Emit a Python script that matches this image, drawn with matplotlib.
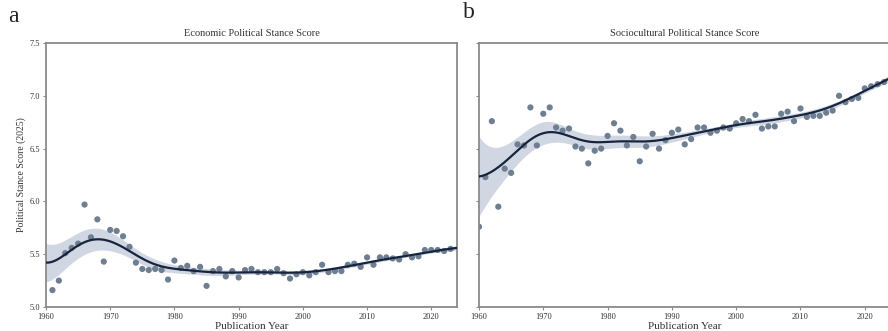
import numpy as np
import matplotlib
matplotlib.use('Agg')
import matplotlib.pyplot as plt

plt.rcParams['font.family'] = ['Liberation Serif', 'DejaVu Serif']

# yearly mean scores
econ_years = np.arange(1961, 2024)
econ_scores = [5.16, 5.25, 5.51, 5.56, 5.60, 5.97, 5.66, 5.83, 5.43, 5.73,
               5.72, 5.67, 5.57, 5.42, 5.36, 5.35, 5.36, 5.35, 5.26, 5.44,
               5.37, 5.39, 5.34, 5.38, 5.20, 5.34, 5.36, 5.29, 5.34, 5.28,
               5.35, 5.36, 5.33, 5.33, 5.33, 5.36, 5.32, 5.27, 5.31, 5.33,
               5.30, 5.33, 5.40, 5.33, 5.34, 5.34, 5.40, 5.41, 5.38, 5.47,
               5.40, 5.47, 5.47, 5.46, 5.45, 5.50, 5.47, 5.48, 5.54, 5.54,
               5.54, 5.53, 5.55]

socio_years = np.arange(1960, 2024)
socio_scores = [5.76, 6.23, 6.76, 5.95, 6.31, 6.27, 6.54, 6.53, 6.89, 6.53,
                6.83, 6.89, 6.70, 6.67, 6.69, 6.52, 6.50, 6.36, 6.48, 6.50,
                6.62, 6.74, 6.67, 6.53, 6.61, 6.38, 6.52, 6.64, 6.50, 6.58,
                6.65, 6.68, 6.54, 6.59, 6.70, 6.70, 6.65, 6.67, 6.70, 6.69,
                6.74, 6.78, 6.76, 6.82, 6.69, 6.71, 6.71, 6.83, 6.85, 6.76,
                6.88, 6.80, 6.81, 6.81, 6.84, 6.86, 7.00, 6.94, 6.97, 6.98,
                7.07, 7.09, 7.11, 7.13]

titles = ['Economic Political Stance Score', 'Sociocultural Political Stance Score']

point_color = '#6f7f92'
line_color = '#16243d'
band_color = '#c5cedb'
spine_color = '#8a8a8a'


def smooth_fit(x, y, grid, bw=3.5):
    # gaussian kernel smoother: local linear, eased toward the local mean
    # in the sparse early years.  band = pointwise 95% from residual spread
    x = np.asarray(x, float)
    y = np.asarray(y, float)
    fit = np.zeros(len(grid))
    se = np.zeros(len(grid))
    for j, x0 in enumerate(grid):
        w = np.exp(-0.5 * ((x - x0) / bw) ** 2)
        X = np.column_stack([np.ones_like(x), x - x0])
        A = X.T @ (w[:, None] * X)
        L = np.linalg.solve(A, (X * w[:, None]).T)[0]
        ll = L @ y
        nw = np.sum(w * y) / np.sum(w)
        a = 1 - np.exp(-(x0 - 1960) / 8.0)
        fit[j] = a * ll + (1 - a) * nw
        beta = np.linalg.solve(A, X.T @ (w * y))
        r = y - X @ beta
        s2 = np.sum(w * r ** 2) / np.sum(w)
        se[j] = np.sqrt(s2 * np.sum(L ** 2))
    return fit, 1.96 * se


fig = plt.figure(figsize=(8.88, 3.31), dpi=100)
ax_a = fig.add_axes([0.0518, 0.0725, 0.4628, 0.7976])
ax_b = fig.add_axes([0.5394, 0.0725, 0.4634, 0.7976])

datasets = [(econ_years, econ_scores), (socio_years, socio_scores)]
grid = np.linspace(1960, 2024, 300)

for i, ax in enumerate([ax_a, ax_b]):
    yrs, vals = datasets[i]
    fit, band = smooth_fit(yrs, vals, grid)
    ax.fill_between(grid, fit - band, fit + band, color=band_color, alpha=0.8,
                    lw=0, zorder=1)
    ax.scatter(yrs, vals, s=20, color=point_color, edgecolors='none', zorder=2)
    ax.plot(grid, fit, color=line_color, lw=1.6, zorder=3)

    ax.set_xlim(1960, 2024)
    ax.set_ylim(5.0, 7.5)
    ax.set_xticks(np.arange(1960, 2021, 10))
    ax.set_yticks([5.0, 5.5, 6.0, 6.5, 7.0, 7.5])
    ax.tick_params(labelsize=6, length=2.5, width=0.8, color=spine_color,
                   labelcolor='#333333', pad=1.5)
    for sp in ax.spines.values():
        sp.set_color(spine_color)
        sp.set_linewidth(1.3)
    ax.set_title(titles[i], fontsize=7.5, color='#333333', pad=5)
    ax.set_xlabel('Publication Year', fontsize=8, color='#333333', labelpad=1)

ax_a.set_ylabel('Political Stance Score (2025)', fontsize=7, color='#333333',
                labelpad=3)
ax_b.tick_params(labelleft=False)

fig.text(0.009, 0.935, 'a', fontsize=17, color='#222222')
fig.text(0.521, 0.945, 'b', fontsize=17, color='#222222')

plt.savefig('out.png', dpi=100)
